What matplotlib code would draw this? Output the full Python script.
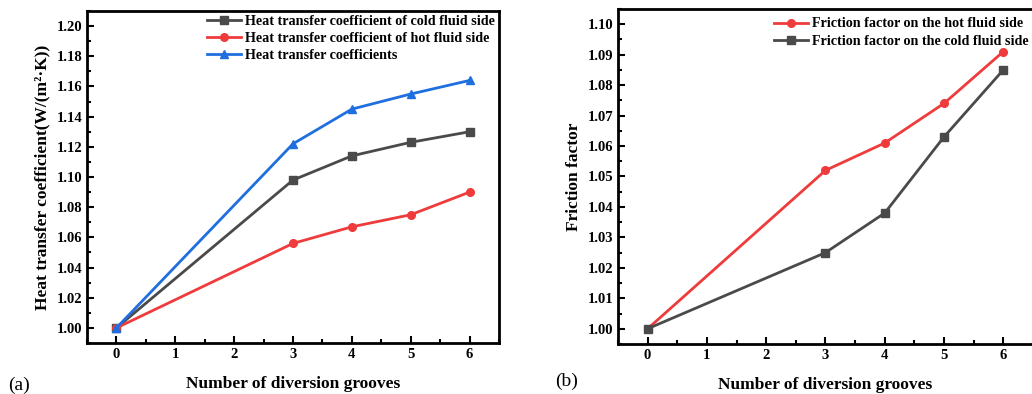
import matplotlib
matplotlib.use('Agg')
from matplotlib import pyplot as plt
from matplotlib.ticker import MultipleLocator

# groove counts
grooves = [0, 3, 4, 5, 6]

# (a) heat transfer coefficients (normalised)
htc_cold = [1.000, 1.098, 1.114, 1.123, 1.130]
htc_hot = [1.000, 1.056, 1.067, 1.075, 1.090]
htc_total = [1.000, 1.122, 1.145, 1.155, 1.164]

# (b) friction factors (normalised)
ff_hot = [1.000, 1.052, 1.061, 1.074, 1.091]
ff_cold = [1.000, 1.025, 1.038, 1.063, 1.085]

GRAY = '#4a4a4a'
RED = '#ef3b3b'
BLUE = '#1f6fdf'

plt.rcParams['font.family'] = ['Liberation Serif', 'DejaVu Serif']
plt.rcParams['font.weight'] = 'bold'
plt.rcParams['axes.labelweight'] = 'bold'


def style_axes(ax, ymajor, yminor):
    for s in ax.spines.values():
        s.set_linewidth(2)
    ax.xaxis.set_major_locator(MultipleLocator(1))
    ax.xaxis.set_minor_locator(MultipleLocator(0.5))
    ax.yaxis.set_major_locator(MultipleLocator(ymajor))
    ax.yaxis.set_minor_locator(MultipleLocator(yminor))
    ax.yaxis.set_major_formatter(plt.FormatStrFormatter('%.2f'))
    ax.tick_params(which='both', direction='in', labelsize=10.5, width=1.5,
                   top=False, right=False)
    ax.tick_params(which='major', length=5)
    ax.tick_params(which='minor', length=3)
    for lab in ax.get_xticklabels() + ax.get_yticklabels():
        lab.set_fontweight('bold')


fig = plt.figure(figsize=(10.32, 3.94), dpi=100)
leg_font = {'weight': 'bold', 'size': 10.2}

ax1 = fig.add_axes([0.0843, 0.1294, 0.3992, 0.8426])
ax1.plot(grooves, htc_cold, '-s', color=GRAY, lw=2, ms=5.5,
         label='Heat transfer coefficient of cold fluid side')
ax1.plot(grooves, htc_hot, '-o', color=RED, lw=2, ms=5.5,
         label='Heat transfer coefficient of hot fluid side')
ax1.plot(grooves, htc_total, '-^', color=BLUE, lw=2, ms=5.5,
         label='Heat transfer coefficients')
ax1.set_xlim(-0.5, 6.5)
ax1.set_ylim(0.99, 1.21)
style_axes(ax1, 0.02, 0.01)
ax1.set_xlabel('Number of diversion grooves', fontsize=12.5, labelpad=11)
ax1.set_ylabel('Heat transfer coefficient(W/(m²·K))', fontsize=12.5)
ax1.legend(loc='upper left', bbox_to_anchor=(0.27, 1.015), frameon=False,
           handlelength=2.4, handletextpad=0.3,
           labelspacing=0.3, borderaxespad=0.2, prop=leg_font)

ax2 = fig.add_axes([0.5988, 0.1269, 0.4021, 0.8503])
ax2.plot(grooves, ff_hot, '-o', color=RED, lw=2, ms=5.5,
         label='Friction factor on the hot fluid side')
ax2.plot(grooves, ff_cold, '-s', color=GRAY, lw=2, ms=5.5,
         label='Friction factor on the cold fluid side')
ax2.set_xlim(-0.5, 6.5)
ax2.set_ylim(0.995, 1.105)
style_axes(ax2, 0.01, 0.005)
ax2.set_xlabel('Number of diversion grooves', fontsize=12.5, labelpad=11)
ax2.set_ylabel('Friction factor', fontsize=12.5)
ax2.legend(loc='upper left', bbox_to_anchor=(0.355, 1.0), frameon=False,
           handlelength=2.4, handletextpad=0.3,
           labelspacing=0.3, borderaxespad=0.2, prop=leg_font)

fig.text(0.008, 0.01, '(a)', fontsize=14, fontweight='normal')
fig.text(0.538, 0.02, '(b)', fontsize=14, fontweight='normal')

fig.savefig('out.png', dpi=100)
